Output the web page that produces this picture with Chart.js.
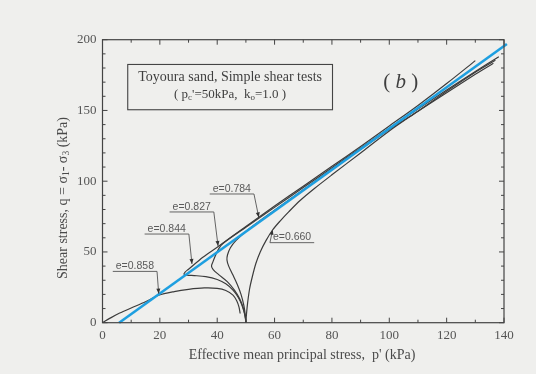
<!DOCTYPE html>
<html>
<head>
<meta charset="utf-8">
<script src="https://cdn.jsdelivr.net/npm/chart.js@4.4.1/dist/chart.umd.min.js"></script>
<style>
  html, body { margin: 0; padding: 0; background: #efefed; }
  #stress-path { display: block; }
</style>
</head>
<body>
<canvas id="stress-path" width="536" height="374"></canvas>
<script>
// axis ticks
var pTicks = [0, 20, 40, 60, 80, 100, 120, 140];
var qTicks = [0, 50, 100, 150, 200];

// undrained stress paths, p' (kPa) and q (kPa)
var e858P = [0, 3, 6, 10, 15, 19.6, 25, 30, 35.5, 40, 43, 45.5, 46.8, 47.6, 48];
var e858Q = [0, 3.6, 6.8, 10.4, 14.8, 19.4, 22, 23.6, 24.6, 24.3, 22.8, 19.5, 15.5, 11, 6.5];

var e844P = [50, 49.8, 49.3, 48.5, 47.3, 45.5, 43, 40, 36, 32, 29.5, 28.4, 28.8, 30, 35, 40, 50, 60, 70, 80, 90, 100, 110, 120, 130];
var e844Q = [0, 4, 8, 13, 18, 23, 27.5, 30.5, 32.5, 33.3, 33.6, 34.3, 35.8, 37.8, 46.3, 53.4, 68, 82.5, 96.5, 110.5, 124.5, 139, 153.5, 169, 185.2];

var e827P = [50, 49.7, 49, 47.8, 46, 43.5, 40.5, 38.6, 38, 38.5, 39.5, 40.6, 42, 50, 60, 70, 80, 90, 100, 110, 120, 130, 138.2];
var e827Q = [0, 5, 11, 17, 23, 29, 34, 37.5, 40, 43, 48, 52.5, 56, 67.5, 81.5, 95.5, 109.5, 123.5, 137.5, 151, 164.5, 177.5, 188];

var e784P = [50, 49.8, 49.3, 48.3, 47, 45.4, 44, 43.4, 43.6, 44.6, 46.5, 50, 60, 70, 80, 90, 100, 110, 120, 130, 136.3];
var e784Q = [0, 5, 12, 20, 27, 34, 40, 44.3, 48, 53, 58, 64.5, 79.5, 94, 108.5, 122.5, 136.5, 149.5, 162.5, 175.5, 183.3];

var e660P = [50, 50.2, 50.6, 51.3, 52.3, 53.5, 55, 57, 59.3, 62, 65, 69, 74, 80, 90, 100, 110, 120, 130, 137];
var e660Q = [0, 6, 14, 24, 33, 42, 50, 58, 65.5, 72, 78.5, 86.5, 95, 104.5, 120, 135.5, 149.5, 163.5, 177, 185.5];

// critical state line
var cslP = [5.8, 141];
var cslQ = [0, 197];

var voidRatios = ['e=0.858', 'e=0.844', 'e=0.827', 'e=0.784', 'e=0.660'];

function toPoints(px, qy) {
    var pts = [];
    for (var i = 0; i < px.length; i++) {
        pts.push({ x: px[i], y: qy[i] });
    }
    return pts;
}

function pathSet(px, qy) {
    return {
        data: toPoints(px, qy),
        showLine: true,
        borderColor: '#3c3c3c',
        borderWidth: 1.2,
        pointRadius: 0,
        tension: 0.3,
        order: 1
    };
}

var serif = '"Liberation Serif", "Times New Roman", serif';
var sans = '"Liberation Sans", Arial, sans-serif';

// text pieces drawn one after another, subscripts lowered
function drawRuns(ctx, runs, x, y, align) {
    var total = 0;
    runs.forEach(function(r) {
        ctx.font = r.font;
        total += ctx.measureText(r.t).width;
    });
    var cx = align === 'center' ? x - total / 2 : x;
    ctx.textAlign = 'left';
    runs.forEach(function(r) {
        ctx.font = r.font;
        ctx.fillText(r.t, cx, y + (r.dy || 0));
        cx += ctx.measureText(r.t).width;
    });
}

var frame = {
    id: 'frame',
    beforeDraw: function(chart) {
        var ctx = chart.ctx;
        ctx.save();
        ctx.fillStyle = '#efefed';
        ctx.fillRect(0, 0, chart.width, chart.height);
        ctx.restore();
    },
    afterDraw: function(chart) {
        var ctx = chart.ctx;
        var a = chart.chartArea;
        var xs = chart.scales.x, ys = chart.scales.y;
        ctx.save();

        // box and inward ticks
        ctx.strokeStyle = '#444';
        ctx.lineWidth = 1.2;
        ctx.strokeRect(a.left, a.top, a.right - a.left, a.bottom - a.top);
        ctx.lineWidth = 1;
        for (var p = 0; p <= 140; p += 10) {
            var xp = xs.getPixelForValue(p);
            var len = p % 20 === 0 ? 5 : 3;
            ctx.beginPath();
            ctx.moveTo(xp, a.bottom); ctx.lineTo(xp, a.bottom - len);
            ctx.moveTo(xp, a.top); ctx.lineTo(xp, a.top + len);
            ctx.stroke();
        }
        for (var q = 0; q <= 200; q += 10) {
            var yp = ys.getPixelForValue(q);
            var l2 = q % 50 === 0 ? 5 : 3;
            ctx.beginPath();
            ctx.moveTo(a.left, yp); ctx.lineTo(a.left + l2, yp);
            ctx.moveTo(a.right, yp); ctx.lineTo(a.right - l2, yp);
            ctx.stroke();
        }

        // axis titles
        ctx.fillStyle = '#4a4a4a';
        ctx.textBaseline = 'middle';
        ctx.font = '14px ' + serif;
        ctx.textAlign = 'center';
        ctx.fillText("Effective mean principal stress,  p' (kPa)", 302, 355);

        ctx.save();
        ctx.translate(63, 198);
        ctx.rotate(-Math.PI / 2);
        var big = '14px ' + serif, sub = '9.5px ' + serif;
        drawRuns(ctx, [
            { t: 'Shear stress, q = \u03c3', font: big },
            { t: '1', font: sub, dy: 3 },
            { t: '- \u03c3', font: big },
            { t: '3', font: sub, dy: 3 },
            { t: ' (kPa)', font: big }
        ], 0, 0, 'center');
        ctx.restore();

        // test description box
        var bx1 = xs.getPixelForValue(8.8), bx2 = xs.getPixelForValue(80.2);
        var by1 = ys.getPixelForValue(182.5), by2 = ys.getPixelForValue(150.5);
        ctx.strokeStyle = '#444';
        ctx.lineWidth = 1.1;
        ctx.strokeRect(bx1, by1, bx2 - bx1, by2 - by1);
        ctx.fillStyle = '#3f3f3f';
        var mid = (bx1 + bx2) / 2;
        ctx.font = '14px ' + serif;
        ctx.textAlign = 'center';
        ctx.fillText('Toyoura sand, Simple shear tests', mid, ys.getPixelForValue(173.3));
        var f13 = '13px ' + serif, s9 = '9px ' + serif;
        drawRuns(ctx, [
            { t: '( p', font: f13 },
            { t: 'c', font: s9, dy: 3 },
            { t: "'=50kPa,  k", font: f13 },
            { t: 'o', font: s9, dy: 3 },
            { t: '=1.0 )', font: f13 }
        ], mid, ys.getPixelForValue(161.5), 'center');

        // panel tag
        var tx = xs.getPixelForValue(104), ty = ys.getPixelForValue(170);
        drawRuns(ctx, [
            { t: '( ', font: '21px ' + serif },
            { t: 'b', font: 'italic 21px ' + serif },
            { t: ' )', font: '21px ' + serif }
        ], tx, ty, 'center');

        // void ratio call-outs: text centre, arrow tip, side of leader
        var callouts = [
            { tp: 11.3, tq: 40.5, ap: 19.6, aq: 20.5, side: 1 },
            { tp: 22.4, tq: 66.9, ap: 31.2, aq: 41.5, side: 1 },
            { tp: 31.1, tq: 82.5, ap: 40.3, aq: 54.2, side: 1 },
            { tp: 45.1, tq: 95.2, ap: 54.5, aq: 74.4, side: 1 },
            { tp: 66.1, tq: 60.8, ap: 59.3, aq: 65.7, side: -1 }
        ];
        ctx.font = '10.5px ' + sans;
        ctx.textBaseline = 'alphabetic';
        callouts.forEach(function(c, i) {
            var cx = xs.getPixelForValue(c.tp), cy = ys.getPixelForValue(c.tq);
            var w = ctx.measureText(voidRatios[i]).width;
            ctx.fillStyle = '#5a5a5a';
            ctx.textAlign = 'center';
            ctx.fillText(voidRatios[i], cx, cy + 3.8);
            var uy = cy + 6;
            var ux1 = cx - w / 2 - 3, ux2 = cx + w / 2 + 3;
            var ex = c.side > 0 ? ux2 : ux1;
            var hx = xs.getPixelForValue(c.ap), hy = ys.getPixelForValue(c.aq);
            ctx.strokeStyle = '#555';
            ctx.lineWidth = 0.9;
            ctx.beginPath();
            ctx.moveTo(ux1, uy); ctx.lineTo(ux2, uy);
            ctx.lineTo(ux2, uy);
            ctx.moveTo(ex, uy); ctx.lineTo(hx, hy);
            ctx.stroke();
            // arrow head
            var ang = Math.atan2(hy - uy, hx - ex);
            ctx.fillStyle = '#333';
            ctx.beginPath();
            ctx.moveTo(hx, hy);
            ctx.lineTo(hx - 5 * Math.cos(ang) + 2 * Math.sin(ang), hy - 5 * Math.sin(ang) - 2 * Math.cos(ang));
            ctx.lineTo(hx - 5 * Math.cos(ang) - 2 * Math.sin(ang), hy - 5 * Math.sin(ang) + 2 * Math.cos(ang));
            ctx.closePath();
            ctx.fill();
        });

        ctx.restore();
    }
};

var ctx = document.getElementById('stress-path').getContext('2d');

var stressChart = new Chart(ctx, {
    type: 'scatter',
    data: {
        datasets: [
            {
                data: toPoints(cslP, cslQ),
                showLine: true,
                borderColor: '#1e9fe0',
                borderWidth: 2.6,
                pointRadius: 0,
                clip: 6,
                order: 0
            },
            pathSet(e858P, e858Q),
            pathSet(e844P, e844Q),
            pathSet(e827P, e827Q),
            pathSet(e784P, e784Q),
            pathSet(e660P, e660Q)
        ]
    },
    options: {
        responsive: false,
        animation: false,
        layout: { padding: { top: 39.7, right: 32, left: 0, bottom: 0 } },
        plugins: {
            legend: { display: false },
            tooltip: { enabled: false }
        },
        scales: {
            x: {
                type: 'linear',
                min: 0,
                max: 140,
                afterFit: function(s) { s.height = 51.3; },
                afterBuildTicks: function(s) {
                    s.ticks = pTicks.map(function(v) { return { value: v }; });
                },
                grid: { display: false, drawTicks: false },
                border: { display: false },
                ticks: {
                    padding: 5,
                    color: '#555',
                    font: { family: serif, size: 13 },
                    maxRotation: 0
                }
            },
            y: {
                type: 'linear',
                min: 0,
                max: 200,
                afterFit: function(s) { s.width = 102.5; },
                afterBuildTicks: function(s) {
                    s.ticks = qTicks.map(function(v) { return { value: v }; });
                },
                grid: { display: false, drawTicks: false },
                border: { display: false },
                ticks: {
                    padding: 6,
                    color: '#555',
                    font: { family: serif, size: 13 }
                }
            }
        }
    },
    plugins: [frame]
});
</script>
</body>
</html>
